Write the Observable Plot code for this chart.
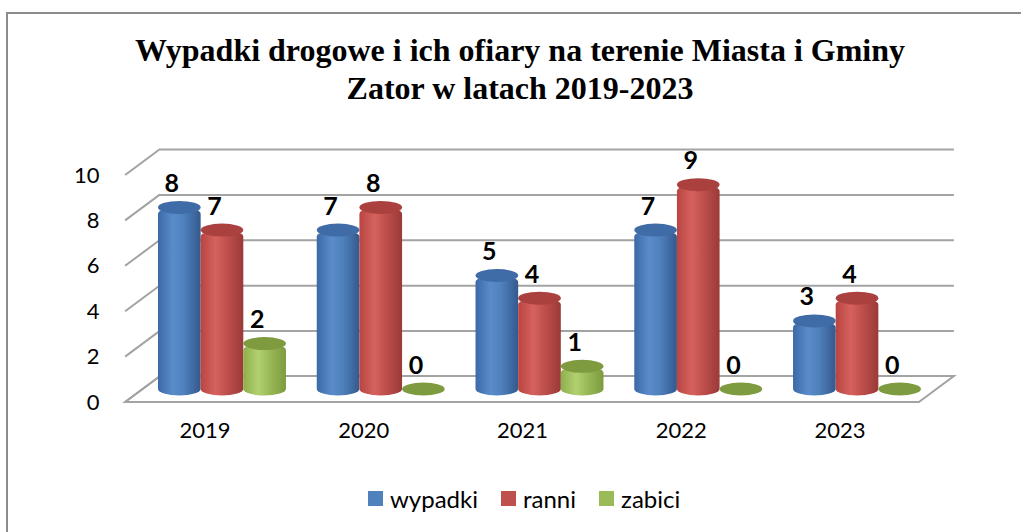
<!DOCTYPE html>
<html><head><meta charset="utf-8">
<script src="https://cdn.jsdelivr.net/npm/d3@7"></script>
<script src="https://cdn.jsdelivr.net/npm/@observablehq/plot@0.6"></script>
<style>
html,body{margin:0;padding:0;background:#fff;width:1021px;height:532px;overflow:hidden;position:relative;}
#frame{position:absolute;left:6px;top:12px;width:1040px;height:540px;border:2px solid #8c8c8c;box-sizing:border-box;}
#title{position:absolute;left:0;width:1040px;top:31px;text-align:center;font-family:"Liberation Serif","Times New Roman",serif;font-weight:bold;font-size:32px;line-height:38px;color:#000;}
#chart{position:absolute;left:0;top:110px;}
#legend{position:absolute;top:484px;left:368px;display:flex;align-items:center;font-family:Lato,"Noto Sans",sans-serif;font-size:24px;color:#000;}
#legend .item{display:flex;align-items:center;margin-right:23px;}
#legend .sw{width:15px;height:15px;margin-right:7px;}
</style></head>
<body>
<div id="frame"></div>
<div id="title">Wypadki drogowe i ich ofiary na terenie Miasta i Gminy<br>Zator w latach 2019-2023</div>
<div id="chart"></div>
<div id="legend"></div>
<script>
// ---- data ----
const years = ["2019", "2020", "2021", "2022", "2023"];
const wypadki = [8, 7, 5, 7, 3];
const ranni = [7, 8, 4, 9, 4];
const zabici = [2, 0, 1, 0, 0];
const seriesNames = ["wypadki", "ranni", "zabici"];
const seriesColors = ["#4F81BD", "#C0504D", "#9BBB59"];
const yTicks = [0, 2, 4, 6, 8, 10];

const seriesValues = [wypadki, ranni, zabici];
const rows = [];
seriesNames.forEach((s, k) => years.forEach((y, i) => rows.push({year: y, series: s, k, value: seriesValues[k][i]})));

// ---- layout ----
const W = 1021, H = 350;
const mL = 142.6, mR = 84.6, mT = 52, mB = 71;
const pI = 0.194, pO = 0.097;
const step = (W - mL - mR) / (years.length - pI + 2 * pO);
const bw = step * (1 - pI);
const b3 = bw / 3;
const D = 17.5, E = 13; // depth offsets (3D look)
const RY = 6.5;
const ns = "http://www.w3.org/2000/svg";

const grads = [
  ["#3c69a6", "#5a8ccc", "#4f81bd", "#34598d"],
  ["#b84541", "#d6625e", "#c0504d", "#9a3a37"],
  ["#8eae4c", "#b2d070", "#9bbb59", "#7d9b3f"]
];
const capColors = ["#3f6ca6", "#aa413e", "#7e9c3f"];

function defs() {
  const d = document.createElementNS(ns, "defs");
  grads.forEach((st, k) => {
    const lg = document.createElementNS(ns, "linearGradient");
    lg.setAttribute("id", "g" + k);
    lg.setAttribute("x1", "0"); lg.setAttribute("x2", "1");
    lg.setAttribute("y1", "0"); lg.setAttribute("y2", "0");
    [[0, st[0]], [0.35, st[1]], [0.6, st[2]], [1, st[3]]].forEach(([o, c]) => {
      const s = document.createElementNS(ns, "stop");
      s.setAttribute("offset", o); s.setAttribute("stop-color", c);
      lg.appendChild(s);
    });
    d.appendChild(lg);
  });
  return d;
}

function frame3d(index, scales, values, dims) {
  const y = scales.y;
  const L = dims.marginLeft, R = dims.width - dims.marginRight;
  const g = document.createElementNS(ns, "g");
  const y0 = y(0);
  const poly = document.createElementNS(ns, "polygon");
  poly.setAttribute("points", [[L - D, y0 + E], [R - D, y0 + E], [R + D, y0 - E], [L + D, y0 - E]].map(p => p.join(",")).join(" "));
  poly.setAttribute("fill", "#fff");
  poly.setAttribute("stroke", "#a3a3a3");
  poly.setAttribute("stroke-width", "2");
  g.appendChild(poly);
  for (const t of yTicks) {
    const l = document.createElementNS(ns, "line");
    l.setAttribute("x1", L - D); l.setAttribute("y1", y(t) + E);
    l.setAttribute("x2", L + D); l.setAttribute("y2", y(t) - E);
    l.setAttribute("stroke", "#a3a3a3"); l.setAttribute("stroke-width", "2");
    g.appendChild(l);
  }
  return g;
}

const marks = [
  defs,
  Plot.ruleY(yTicks, {y: d => d, dx: D, dy: -E, stroke: "#a3a3a3", strokeWidth: 2}),
  frame3d,
  Plot.text(yTicks, {y: d => d, frameAnchor: "left", textAnchor: "end", dx: -D - 26, dy: E, text: d => String(d), fontSize: 22, fill: "#000"}),
  Plot.text(years, {x: d => d, frameAnchor: "bottom", dx: -D, dy: 48, text: d => d, fontSize: 22, fill: "#000"})
];

seriesNames.forEach((s, k) => {
  const data = rows.filter(r => r.series === s);
  marks.push(Plot.barY(data.filter(r => r.value > 0), {
    x: "year", y1: () => 0, y2: "value",
    insetLeft: k * b3, insetRight: (2 - k) * b3, insetBottom: -RY,
    rx: b3 / 2, ry: RY, fill: `url(#g${k})`
  }));
  marks.push(Plot.barY(data, {
    x: "year", y1: "value", y2: "value",
    insetLeft: k * b3, insetRight: (2 - k) * b3, insetTop: -RY, insetBottom: -RY,
    rx: b3 / 2, ry: RY, fill: capColors[k]
  }));
});

seriesNames.forEach((s, k) => {
  marks.push(Plot.text(rows.filter(r => r.series === s), {
    x: "year", y: "value", text: d => String(d.value),
    dx: (k - 1) * b3 - 8, dy: -24, fontSize: 25, fontWeight: "bold", fill: "#000"
  }));
});

const chart = Plot.plot({
  width: W, height: H,
  marginLeft: mL, marginRight: mR, marginTop: mT, marginBottom: mB,
  style: {fontFamily: "Lato, 'Noto Sans', sans-serif", background: "transparent", overflow: "visible"},
  x: {type: "band", domain: years, paddingInner: pI, paddingOuter: pO, round: false, axis: null},
  y: {domain: [0, 10], axis: null},
  marks
});
document.getElementById("chart").appendChild(chart);

const leg = document.getElementById("legend");
seriesNames.forEach((s, k) => {
  const it = document.createElement("div"); it.className = "item";
  const sw = document.createElement("div"); sw.className = "sw"; sw.style.background = seriesColors[k];
  const tx = document.createElement("span"); tx.textContent = s;
  it.appendChild(sw); it.appendChild(tx); leg.appendChild(it);
});
</script>
</body></html>
